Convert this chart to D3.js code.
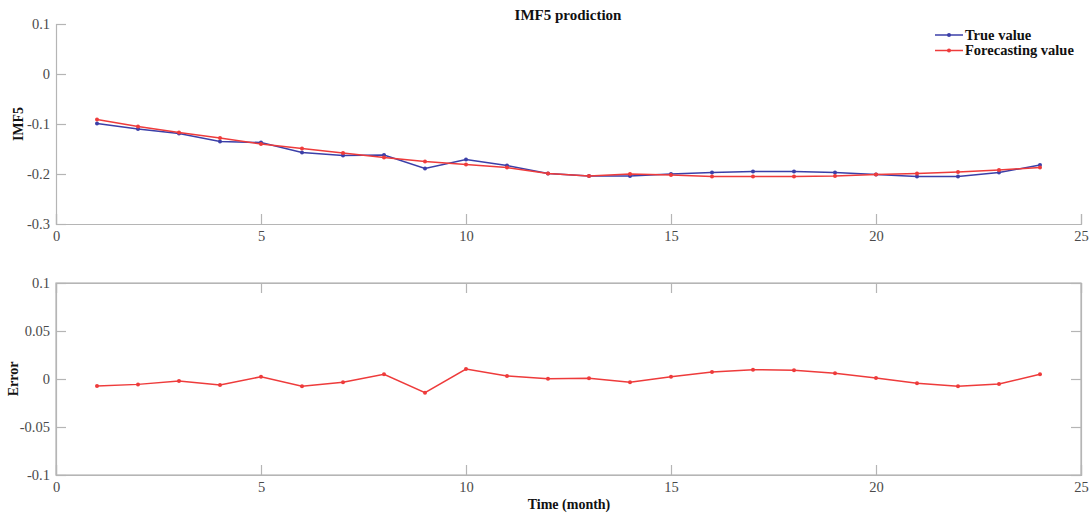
<!DOCTYPE html>
<html><head><meta charset="utf-8">
<script src="https://cdn.jsdelivr.net/npm/d3@7/dist/d3.min.js"></script>
<style>body{margin:0;background:#fff;} text{font-family:"Liberation Serif","Times New Roman",serif;}</style>
</head><body>
<svg id="chart" width="1092" height="515"></svg>
<script>
const months = d3.range(1, 25);
const trueValues = [-0.099,-0.110,-0.119,-0.135,-0.137,-0.157,-0.163,-0.162,-0.189,-0.171,-0.183,-0.199,-0.204,-0.204,-0.200,-0.197,-0.195,-0.195,-0.197,-0.201,-0.205,-0.205,-0.197,-0.182];
const forecastValues = [-0.091,-0.105,-0.117,-0.128,-0.140,-0.149,-0.158,-0.167,-0.175,-0.181,-0.187,-0.199,-0.204,-0.200,-0.202,-0.205,-0.205,-0.205,-0.204,-0.201,-0.199,-0.196,-0.192,-0.187];
const errorValues = [-0.0073,-0.0056,-0.0021,-0.0063,0.0024,-0.0076,-0.0035,0.0049,-0.0142,0.0104,0.0031,0.0003,0.0007,-0.0035,0.0024,0.0073,0.0097,0.0090,0.0059,0.0010,-0.0045,-0.0076,-0.0052,0.0049];
const xTicks = [0,5,10,15,20,25];
const topYTicks = [0.1,0,-0.1,-0.2,-0.3];
const botYTicks = [0.1,0.05,0,-0.05,-0.1];

const svg = d3.select("#chart");
const axisColor = "#b5b5b5", labelColor = "#4a4a4a";
const blue = "#3b3fa8", red = "#ee3b3b";

const x = d3.scaleLinear().domain([0,25]).range([56,1081]);
const yTop = d3.scaleLinear().domain([-0.3,0.1]).range([224,24]);
const yBot = d3.scaleLinear().domain([-0.1,0.1]).range([475,283]);

function styleAxis(g){
  g.select(".domain").attr("stroke",axisColor).attr("stroke-width",1.2);
  g.selectAll(".tick line").attr("stroke",axisColor).attr("stroke-width",1.2);
  g.selectAll(".tick text").attr("fill",labelColor).style("font-size","14.5px").style("font-family","Liberation Serif, serif");
}
const fmt = d => d===0 ? "0" : String(d);

// Top panel
const gxT = svg.append("g").attr("transform","translate(0,224)")
  .call(d3.axisBottom(x).tickValues(xTicks).tickSize(-10).tickPadding(7).tickFormat(fmt));
styleAxis(gxT);
const gyT = svg.append("g").attr("transform","translate(56,0)")
  .call(d3.axisLeft(yTop).tickValues(topYTicks).tickSize(-10).tickPadding(6).tickFormat(fmt));
styleAxis(gyT);

// Bottom panel box
svg.append("rect").attr("x",56).attr("y",283).attr("width",1025).attr("height",192)
  .attr("fill","none").attr("stroke",axisColor).attr("stroke-width",1.2);
const gxB = svg.append("g").attr("transform","translate(0,475)")
  .call(d3.axisBottom(x).tickValues(xTicks).tickSize(-10).tickPadding(7).tickFormat(fmt));
styleAxis(gxB);
const gxB2 = svg.append("g").attr("transform","translate(0,283)")
  .call(d3.axisTop(x).tickValues(xTicks).tickSize(-10).tickFormat(""));
styleAxis(gxB2);
const gyB = svg.append("g").attr("transform","translate(56,0)")
  .call(d3.axisLeft(yBot).tickValues(botYTicks).tickSize(-10).tickPadding(6).tickFormat(fmt));
styleAxis(gyB);
const gyB2 = svg.append("g").attr("transform","translate(1081,0)")
  .call(d3.axisRight(yBot).tickValues(botYTicks).tickSize(-10).tickFormat(""));
styleAxis(gyB2);

function series(data, yScale, color){
  const pts = months.map((m,i)=>[m,data[i]]);
  svg.append("path").datum(pts)
    .attr("d", d3.line().x(d=>x(d[0])).y(d=>yScale(d[1])))
    .attr("fill","none").attr("stroke",color).attr("stroke-width",1.5);
  svg.append("g").selectAll("circle").data(pts).join("circle")
    .attr("cx",d=>x(d[0])).attr("cy",d=>yScale(d[1])).attr("r",2).attr("fill",color);
}
series(trueValues, yTop, blue);
series(forecastValues, yTop, red);
series(errorValues, yBot, red);

// Titles
svg.append("text").attr("x",568).attr("y",20).attr("text-anchor","middle")
  .style("font-size","15px").style("font-weight","bold").attr("fill","#111").text("IMF5 prodiction");
svg.append("text").attr("transform","translate(23,124) rotate(-90)").attr("text-anchor","middle")
  .style("font-size","14px").style("font-weight","bold").attr("fill","#111").text("IMF5");
svg.append("text").attr("transform","translate(18,379) rotate(-90)").attr("text-anchor","middle")
  .style("font-size","14px").style("font-weight","bold").attr("fill","#111").text("Error");
svg.append("text").attr("x",569).attr("y",509).attr("text-anchor","middle")
  .style("font-size","14px").style("font-weight","bold").attr("fill","#111").text("Time (month)");

// Legend
const legend = [["True value", blue],["Forecasting value", red]];
legend.forEach((d,i)=>{
  const ly = 35 + i*15.5;
  svg.append("line").attr("x1",935).attr("x2",963).attr("y1",ly).attr("y2",ly).attr("stroke",d[1]).attr("stroke-width",1.5);
  svg.append("circle").attr("cx",949).attr("cy",ly).attr("r",2).attr("fill",d[1]);
  svg.append("text").attr("x",965).attr("y",ly+4.5).style("font-size","14.5px").style("font-weight","bold").attr("fill","#111").text(d[0]);
});
</script>
</body></html>
